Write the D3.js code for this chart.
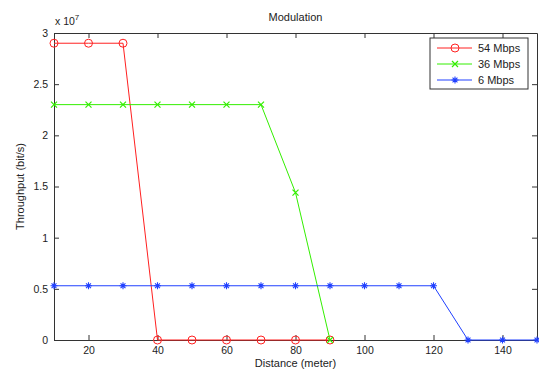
<!DOCTYPE html>
<html>
<head>
<meta charset="utf-8">
<script src="https://cdn.jsdelivr.net/npm/d3@7"></script>
<style>
  html, body { margin: 0; padding: 0; background: #fff; }
  text { font-family: "Liberation Sans", Arial, sans-serif; fill: #222; }
</style>
</head>
<body>
<svg id="chart" width="539" height="372"></svg>
<script>
// Distances (meter) and throughput (in units of 1e7 bit/s)
const distances = [10, 20, 30, 40, 50, 60, 70, 80, 90, 100, 110, 120, 130, 140, 150];
const rate54 = [2.9, 2.9, 2.9, 0, 0, 0, 0, 0, 0];
const rate36 = [2.3, 2.3, 2.3, 2.3, 2.3, 2.3, 2.3, 1.44, 0];
const rate6 = [0.53, 0.53, 0.53, 0.53, 0.53, 0.53, 0.53, 0.53, 0.53, 0.53, 0.53, 0.53, 0, 0, 0];
const xTicks = [20, 40, 60, 80, 100, 120, 140];
const yTicks = [0, 0.5, 1, 1.5, 2, 2.5, 3];
const yTickLabels = ["0", "0.5", "1", "1.5", "2", "2.5", "3"];
const seriesNames = ["54 Mbps", "36 Mbps", "6 Mbps"];
const seriesColors = ["#ff2020", "#33ee00", "#2040ff"];
const seriesMarkers = ["circle", "x", "star"];

const series = [rate54, rate36, rate6].map((vals, i) => ({
  name: seriesNames[i], color: seriesColors[i], marker: seriesMarkers[i],
  points: vals.map((v, j) => ({ x: distances[j], y: v }))
}));

const svg = d3.select("#chart");
const L = 54, R = 537, T = 33, B = 340;
const x = d3.scaleLinear().domain([10, 150]).range([L, R]);
const y = d3.scaleLinear().domain([0, 3]).range([B, T]);

// Axes (ticks point inward, box on all four sides)
const tickLen = 5;
const axisColor = "#333";
const gB = svg.append("g").attr("transform", `translate(0,${B})`)
  .call(d3.axisBottom(x).tickValues(xTicks).tickSize(-tickLen).tickPadding(7).tickSizeOuter(0));
const gT = svg.append("g").attr("transform", `translate(0,${T})`)
  .call(d3.axisTop(x).tickValues(xTicks).tickSize(-tickLen).tickFormat("").tickSizeOuter(0));
const gL = svg.append("g").attr("transform", `translate(${L},0)`)
  .call(d3.axisLeft(y).tickValues(yTicks).tickSize(-tickLen).tickPadding(6)
    .tickFormat((d, i) => yTickLabels[i]).tickSizeOuter(0));
const gR = svg.append("g").attr("transform", `translate(${R},0)`)
  .call(d3.axisRight(y).tickValues(yTicks).tickSize(-tickLen).tickFormat("").tickSizeOuter(0));
[gB, gT, gL, gR].forEach(g => {
  g.selectAll("path.domain").attr("stroke", axisColor).attr("stroke-width", 1);
  g.selectAll(".tick line").attr("stroke", axisColor);
  g.selectAll(".tick text").attr("font-size", 10.5).attr("fill", "#222")
    .attr("font-family", "Liberation Sans, Arial, sans-serif");
});

// Exponent label
const expo = svg.append("text").attr("x", 55).attr("y", 25).attr("font-size", 10.5);
expo.append("tspan").text("x 10");
expo.append("tspan").attr("dy", -5).attr("font-size", 8).text("7");

// Title and axis labels
svg.append("text").attr("x", (L + R) / 2).attr("y", 21).attr("text-anchor", "middle")
  .attr("font-size", 11).text("Modulation");
svg.append("text").attr("x", (L + R) / 2).attr("y", 367).attr("text-anchor", "middle")
  .attr("font-size", 11).text("Distance (meter)");
svg.append("text").attr("transform", `translate(24,${(T + B) / 2}) rotate(-90)`)
  .attr("text-anchor", "middle").attr("font-size", 11).text("Throughput (bit/s)");

// Marker drawing
function drawMarker(g, type, cx, cy, color) {
  if (type === "circle") {
    g.append("circle").attr("cx", cx).attr("cy", cy).attr("r", 4)
      .attr("fill", "none").attr("stroke", color).attr("stroke-width", 1);
  } else if (type === "x") {
    const s = 3;
    g.append("path").attr("d", `M${cx - s},${cy - s}L${cx + s},${cy + s}M${cx - s},${cy + s}L${cx + s},${cy - s}`)
      .attr("stroke", color).attr("stroke-width", 1.2).attr("fill", "none");
  } else {
    const s = 3.5;
    let d = `M${cx - s},${cy}L${cx + s},${cy}M${cx},${cy - s}L${cx},${cy + s}`;
    const t = s * 0.7;
    d += `M${cx - t},${cy - t}L${cx + t},${cy + t}M${cx - t},${cy + t}L${cx + t},${cy - t}`;
    g.append("path").attr("d", d).attr("stroke", color).attr("stroke-width", 1.1).attr("fill", "none");
  }
}

const line = d3.line().x(d => x(d.x)).y(d => y(d.y));
const plot = svg.append("g");
series.forEach(s => {
  plot.append("path").datum(s.points).attr("d", line)
    .attr("fill", "none").attr("stroke", s.color).attr("stroke-width", 1);
  const mg = plot.append("g");
  s.points.forEach(p => drawMarker(mg, s.marker, x(p.x), y(p.y), s.color));
});

// Legend
const lg = svg.append("g").attr("transform", "translate(430,38)");
lg.append("rect").attr("width", 98).attr("height", 51)
  .attr("fill", "#fff").attr("stroke", "#333").attr("stroke-width", 1);
series.forEach((s, i) => {
  const yy = 10 + i * 16;
  lg.append("line").attr("x1", 7).attr("x2", 42).attr("y1", yy).attr("y2", yy)
    .attr("stroke", s.color).attr("stroke-width", 1);
  drawMarker(lg, s.marker, 25, yy, s.color);
  lg.append("text").attr("x", 48).attr("y", yy + 4).attr("font-size", 11).text(s.name);
});
</script>
</body>
</html>
